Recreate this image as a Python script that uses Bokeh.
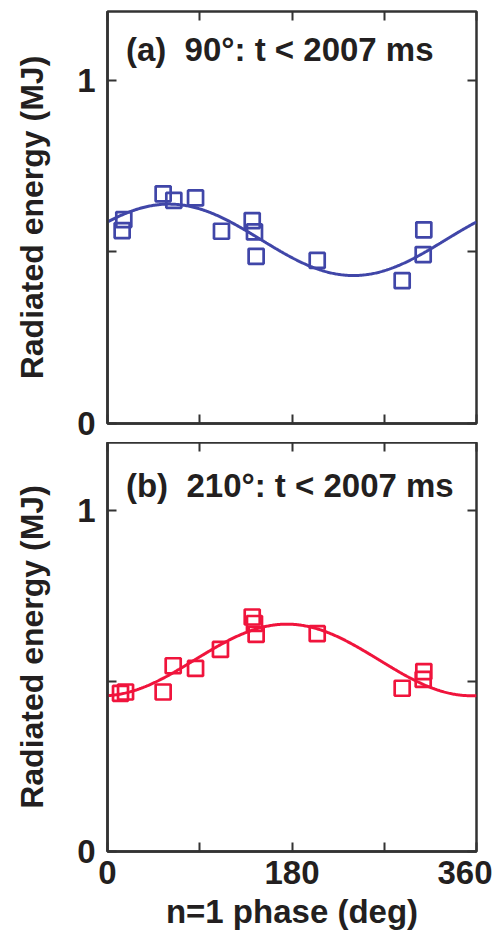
import numpy as np
from bokeh.plotting import figure
from bokeh.layouts import column
from bokeh.models import FixedTicker, LinearAxis, Label, Range1d
from bokeh.embed import file_html
from bokeh.resources import INLINE

# ---- data ----
phase_a = [14.3, 15.9, 54.3, 64.7, 85.9, 111.2, 141.2, 143.4, 145.0, 204.6, 287.5, 308.0, 308.6]
energy_a = [0.562, 0.594, 0.669, 0.650, 0.657, 0.560, 0.591, 0.558, 0.487, 0.475, 0.416, 0.492, 0.564]
phase_b = [12.7, 17.6, 54.3, 64.1, 85.9, 110.2, 141.2, 143.4, 145.0, 204.6, 287.5, 308.0, 308.6]
energy_b = [0.464, 0.468, 0.468, 0.545, 0.537, 0.593, 0.688, 0.669, 0.637, 0.639, 0.479, 0.505, 0.528]
# n=1 sinusoidal fit parameters: mean, amplitude, phase of maximum (deg)
fit_a = (0.535, 0.104, 60.0)
fit_b = (0.562, 0.105, 175.0)
x_ticks = [0, 90, 180, 270, 360]
x_labels = {0: "0", 90: "", 180: "180", 270: "", 360: "360"}
x_blank = {t: "" for t in x_ticks}
y_ticks = [0, 0.5, 1]
y_labels = {0: "0", 0.5: "", 1: "1"}
y_blank = {t: "" for t in y_ticks}
titles = ["(a)\u00a0\u00a090°: t < 2007 ms", "(b)\u00a0\u00a0210°: t < 2007 ms"]
title_y = [1.09, 1.075]
colors = ["#4046a8", "#f0143c"]

FONT = "Liberation Sans"
TXT = "#231f20"
FRAME = "#333333"


def make_panel(phase, energy, fit, title, ty, color, bottom, frame_h, top_border, bottom_border):
    p = figure(frame_width=369, frame_height=frame_h, output_backend="svg", toolbar_location=None,
               x_range=Range1d(0, 360), y_range=Range1d(0, 1.2),
               min_border_left=107, min_border_right=16, min_border_top=top_border,
               min_border_bottom=bottom_border, background_fill_color="white",
               border_fill_color=None)
    p.grid.visible = False
    p.outline_line_color = FRAME
    p.outline_line_width = 2.5

    xs = np.linspace(0, 360, 361)
    m, a, ph = fit
    ys = m + a * np.cos(np.radians(xs - ph))
    p.line(xs, ys, line_color=color, line_width=3)
    p.scatter(phase, energy, marker="square", size=15, fill_color=None,
              line_color=color, line_width=2.7)

    for ax in p.xaxis:
        ax.ticker = FixedTicker(ticks=x_ticks)
        ax.minor_tick_line_color = None
        ax.major_tick_in = 9
        ax.major_tick_out = 0
        ax.major_tick_line_color = FRAME
        ax.major_tick_line_width = 2
        ax.axis_line_color = FRAME
        ax.axis_line_width = 2.5
        ax.major_label_text_font = FONT
        ax.major_label_text_font_style = "bold"
        ax.major_label_text_color = TXT
        ax.major_label_text_font_size = "33px"
        if bottom:
            ax.major_label_overrides = x_labels
            ax.major_label_standoff = 9
            ax.axis_label = "n=1 phase (deg)"
            ax.axis_label_text_font = FONT
            ax.axis_label_text_font_style = "bold"
            ax.axis_label_text_font_size = "33px"
            ax.axis_label_text_color = TXT
            ax.axis_label_standoff = 6
        else:
            ax.major_label_overrides = x_blank
            ax.major_label_standoff = 0
    for ax in p.yaxis:
        ax.ticker = FixedTicker(ticks=y_ticks)
        ax.major_label_overrides = y_labels
        ax.minor_tick_line_color = None
        ax.major_tick_in = 9
        ax.major_tick_out = 0
        ax.major_tick_line_color = FRAME
        ax.major_tick_line_width = 2
        ax.axis_line_color = FRAME
        ax.axis_line_width = 2.5
        ax.major_label_text_font = FONT
        ax.major_label_text_font_style = "bold"
        ax.major_label_text_font_size = "33px"
        ax.major_label_text_color = TXT
        ax.major_label_standoff = 12
        ax.axis_label = "Radiated energy (MJ)"
        ax.axis_label_text_font = FONT
        ax.axis_label_text_font_style = "bold"
        ax.axis_label_text_font_size = "32px"
        ax.axis_label_text_color = TXT
        ax.axis_label_standoff = 24

    top = LinearAxis(ticker=FixedTicker(ticks=x_ticks), major_tick_in=9, major_tick_out=0,
                     major_tick_line_color=FRAME, major_tick_line_width=2,
                     minor_tick_line_color=None, axis_line_color=None,
                     major_label_overrides=x_blank, major_label_standoff=0)
    right = LinearAxis(ticker=FixedTicker(ticks=y_ticks), major_tick_in=9, major_tick_out=0,
                       major_tick_line_color=FRAME, major_tick_line_width=2,
                       minor_tick_line_color=None, axis_line_color=None,
                       major_label_overrides=y_blank, major_label_standoff=0)
    p.add_layout(top, "above")
    p.add_layout(right, "right")

    p.add_layout(Label(x=18, y=ty, text=title, text_font=FONT, text_font_style="bold",
                       text_font_size="33px", text_color=TXT, text_baseline="middle",
                       text_align="left"))
    return p


p1 = make_panel(phase_a, energy_a, fit_a, titles[0], title_y[0], colors[0], False, 412, 11, 19)
p2 = make_panel(phase_b, energy_b, fit_b, titles[1], title_y[1], colors[1], True, 409, 0, 72)

layout = column(p1, p2, spacing=0)
open("out.html", "w").write(file_html(layout, INLINE))
